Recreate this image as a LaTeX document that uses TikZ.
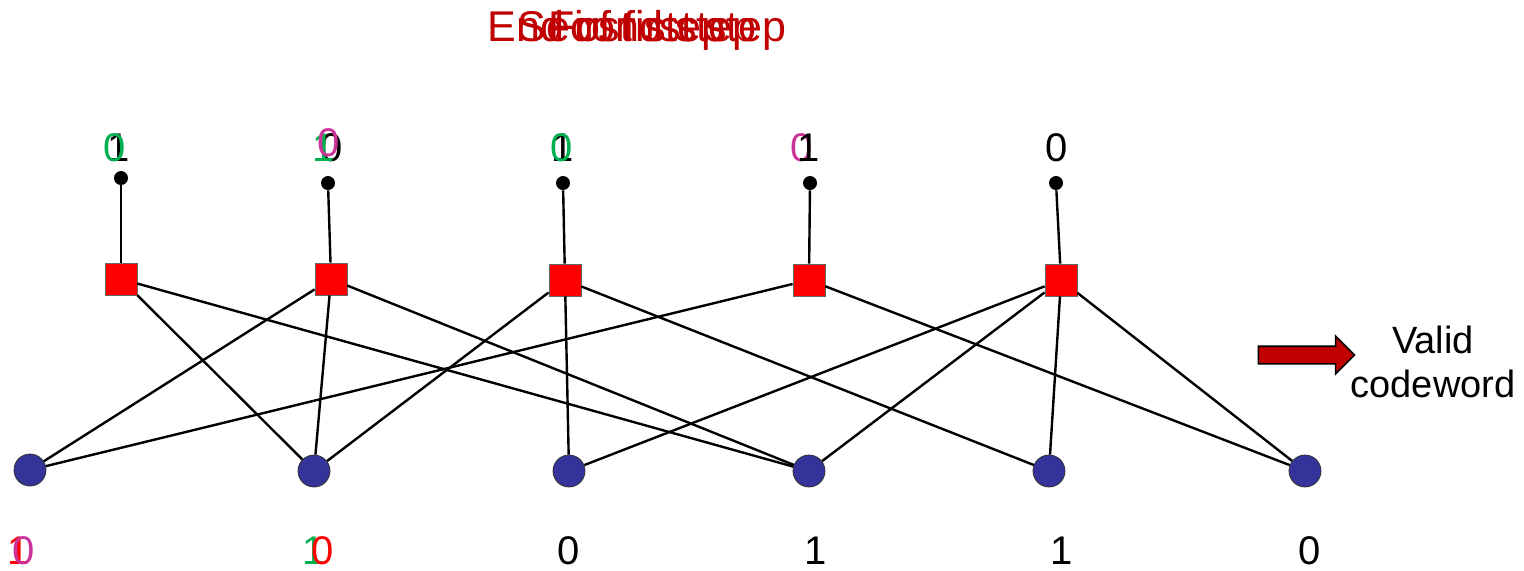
\documentclass[tikz,border=0pt]{standalone}
\usepackage{fontspec}
\setmainfont{Liberation Sans}
\usepackage{xcolor}
\usepackage{tikz}
\usetikzlibrary{arrows,shapes.arrows}
\definecolor{darkred}{HTML}{C00000}
\definecolor{slgreen}{HTML}{00B050}
\definecolor{slpink}{HTML}{CC3399}
\definecolor{slblue}{HTML}{333399}
\tikzset{basic/.style={inner sep=0pt,font=\fontsize{20}{24}\selectfont}}
\tikzset{bit/.style={basic,text=black}}

\begin{document}
\begin{tikzpicture}[x=0.5pt,y=-0.5pt,
    % styles for clarity
    title/.style   ={inner sep=0pt, text=darkred, font=\fontsize{21.5}{24}\selectfont},
    check/.style   ={draw=black!60, fill=red, rectangle, minimum size=16pt, inner sep=0pt},
    var/.style     ={draw=black!80, fill=slblue, circle, minimum size=16pt, inner sep=0pt},
    pin/.style     ={fill=black, circle, minimum size=7pt, inner sep=0pt},
    wire/.style    ={line width=1.2pt}
  ]
    \useasboundingbox (0,0) rectangle (1524,570);

    % title (overlapping slide steps)
    \node[title](t1) at (637,30) {End of first step};
    \node[title](t2) at (637,30) {First step};
    \node[title](t3) at (637,30) {Second step};

    % pins
    \node[pin](p1) at (121,178) {};
    \node[pin](p2) at (328,183) {};
    \node[pin](p3) at (563,183) {};
    \node[pin](p4) at (810,183) {};
    \node[pin](p5) at (1056,183) {};

    % check nodes
    \node[check](c1) at (121,279) {};
    \node[check](c2) at (331,279) {};
    \node[check](c3) at (565,280) {};
    \node[check](c4) at (809,280) {};
    \node[check](c5) at (1061,280) {};

    % variable nodes
    \node[var](v1) at (30,470) {};
    \node[var](v2) at (314,471) {};
    \node[var](v3) at (569,471) {};
    \node[var](v4) at (809,471) {};
    \node[var](v5) at (1049,471) {};
    \node[var](v6) at (1305,471) {};

    \foreach \i in {1,...,5}
      \draw[wire] (p\i) -- (c\i);

    \foreach \c/\v in {c1/v2, c1/v4, c2/v1, c2/v2, c2/v4,
                       c3/v2, c3/v3, c3/v5, c4/v1, c4/v6,
                       c5/v3, c5/v4, c5/v5, c5/v6}
      \draw[wire] (\c) -- (\v);

    % top bits
    \node[bit](a1) at (119,148) {1};
    \node[basic,text=slgreen](a1g) at (115,148) {0};
    \node[bit](a2) at (332,148) {0};
    \node[basic,text=slgreen](a2g) at (324,148) {1};
    \node[basic,text=slpink](a2p) at (329,143) {0};
    \node[bit](a3) at (563,148) {1};
    \node[basic,text=slgreen](a3g) at (562,148) {0};
    \node[basic,text=slpink](a4p) at (802,148) {0};
    \node[bit](a4) at (809,148) {1};
    \node[bit](a5) at (1057,148) {0};

    % bottom bits
    \node[basic,text=red](b1r) at (19,551) {1};
    \node[basic,text=slpink](b1p) at (24,551) {0};
    \node[basic,text=slgreen](b2g) at (314,551) {1};
    \node[basic,text=red](b2r) at (323,551) {0};
    \node[bit](b3) at (569,551) {0};
    \node[bit](b4) at (816,551) {1};
    \node[bit](b5) at (1062,551) {1};
    \node[bit](b6) at (1310,551) {0};

    % result
    \node[single arrow, draw=black, fill=darkred, line width=0.8pt,
          minimum height=48pt, inner sep=4pt,
          single arrow head extend=5pt](arr) at (1302,355) {};
    \node[basic,align=center,font=\fontsize{19}{22}\selectfont](res) at (1433,362) {Valid\\codeword};
  \end{tikzpicture}
\end{document}
